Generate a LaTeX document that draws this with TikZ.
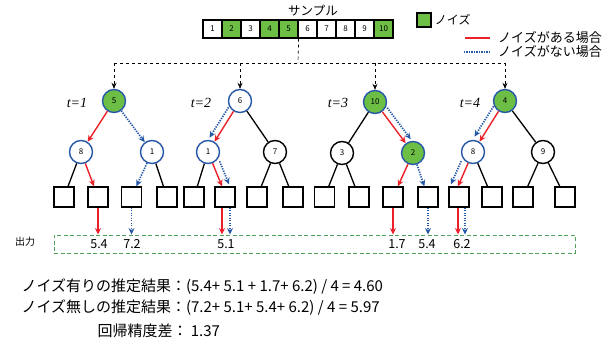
\documentclass[tikz,border=0pt]{standalone}
\usepackage{fontspec}
\setmainfont{Noto Sans CJK JP}
\newfontfamily\tfont{Liberation Serif}
\usetikzlibrary{arrows.meta}
\definecolor{ngreen}{RGB}{109,190,69}
\definecolor{nblue}{RGB}{38,88,168}
\definecolor{nred}{RGB}{236,32,40}
\definecolor{ndash}{RGB}{80,160,90}
\tikzset{
  knot/.style={circle,draw,line width=1.4pt,minimum size=23pt,inner sep=0pt,fill=white,font=\fontsize{8}{9}\selectfont},
  knotused/.style={knot,draw=nblue},
  knotnoise/.style={knotused,fill=ngreen},
  leafbox/.style={draw,line width=1.4pt,minimum size=20pt,inner sep=0pt},
  cellbox/.style={draw,line width=1.2pt,minimum width=19pt,minimum height=18pt,inner sep=0pt,font=\fontsize{8}{9}\selectfont},
  branch/.style={line width=1.3pt},
  feed/.style={dashed,line width=0.7pt},
  rpath/.style={draw=nred,line width=1.4pt,-{Stealth[length=6.5pt,width=6pt]}},
  bpath/.style={draw=nblue,line width=1.7pt,dash pattern=on 1.3pt off 1.2pt,-{Stealth[length=6.5pt,width=6pt]}},
  tlabel/.style={font=\tfont\itshape\fontsize{14}{16}\selectfont}
}
\begin{document}
\begin{tikzpicture}[x=1pt,y=-1pt]
\useasboundingbox (0,0) rectangle (615,347);

\node[font=\fontsize{12.5}{14}\selectfont] (smp) at (313,11) {サンプル};
\foreach \i/\c in {1/white,2/ngreen,3/white,4/ngreen,5/ngreen,6/white,7/white,8/white,9/white,10/ngreen}
  \node[cellbox,fill=\c] (s\i) at ({193.5+19*\i},29) {\i};

\node[draw,line width=1.5pt,fill=ngreen,minimum size=14pt,inner sep=0pt] (key) at (424,20) {};
\node[anchor=west,inner sep=1pt,font=\fontsize{12}{14}\selectfont] (keylbl) at ([xshift=2pt]key.east) {ノイズ};
\node[anchor=west,inner sep=1pt,font=\fontsize{13}{15}\selectfont] (kr) at (497,38) {ノイズがある場合};
\node[anchor=west,inner sep=1pt,font=\fontsize{13}{15}\selectfont] (kb) at (497,52) {ノイズがない場合};
\draw[nred,line width=1.6pt] ([xshift=-7pt]kr.west) -- ++(-25,0);
\draw[nblue,line width=1.7pt,dash pattern=on 1.3pt off 1.2pt] ([xshift=-7pt]kb.west) -- ++(-27,0);

\foreach \nm/\px/\py/\st/\lb in {r1/114/101/knotnoise/5,r2/240/101/knotused/6,r3/375/102/knotnoise/10,r4/505/101/knotnoise/4,
    a1/81/152/knotused/8,b1/152/152/knotused/1,a2/208/152/knotused/1,b2/275/152/knot/7,
    a3/342/153/knot/3,b3/413/153/knotnoise/2,a4/473/152/knotused/8,b4/543/152/knot/9}
  \node[\st] (\nm) at (\px,\py) {\lb};
\foreach \nm/\px in {l11/64,l12/98,l13/131.5,l14/167,l21/194,l22/225,l23/257,l24/293,
    l31/324.5,l32/359,l33/393,l34/428,l41/459,l42/492,l43/523,l44/565}
  \node[leafbox] (\nm) at (\px,197) {};

\node[tlabel] (t1) at (77,103) {t=1};
\node[tlabel] (t2) at (201,103) {t=2};
\node[tlabel] (t3) at (338,103) {t=3};
\node[tlabel] (t4) at (470,103) {t=4};

\coordinate (hub) at (298,63);
\draw[feed] (s5.south east) -- (hub);
\draw[feed] (r1 |- hub) -- (r4 |- hub);
\foreach \r in {r1,r2,r3,r4}
  \draw[feed,-{Stealth[length=6pt,width=5pt]}] (\r |- hub) -- (\r);

\foreach \u/\v in {a1/l11,b1/l14,r2/b2,a2/l21,b2/l23,b2/l24,r3/a3,a3/l31,a3/l32,r4/b4,a4/l42,b4/l43,b4/l44}
  \draw[branch] (\u) -- (\v);

\foreach \u/\v in {r1/a1,a1/l12,r2/a2,r3/b3,b3/l33,r4/a4}
  \draw[rpath] (\u) -- (\v);
\draw[rpath] (a2) -- ([xshift=-3pt]l22.north);
\draw[rpath] (a4) -- ([xshift=-1pt]l41.north);

\foreach \u/\v in {r1/b1,b1/l13,b3/l34}
  \draw[bpath] (\u) -- (\v);
\draw[bpath,transform canvas={shift={(-5pt,4pt)}}] (r2) -- (a2);
\draw[bpath,transform canvas={shift={(5pt,4pt)}}] (r3) -- (b3);
\draw[bpath,transform canvas={shift={(-5pt,5pt)}}] (r4) -- (a4);
\draw[bpath,transform canvas={shift={(7pt,2pt)}}] (a2) -- ([xshift=-3pt]l22.north);
\draw[bpath,transform canvas={shift={(-7pt,2pt)}}] (a4) -- ([xshift=-1pt]l41.north);

\node[draw=ndash,dash pattern=on 4pt off 2.5pt,line width=0.9pt,minimum width=521pt,minimum height=18pt,inner sep=0pt] (outbox) at (314.5,244) {};
\node[font=\fontsize{10}{12}\selectfont] (outlbl) at (25,242) {出力};

\draw[rpath] (l12) -- (l12 |- outbox.north);
\draw[rpath] ([xshift=-3pt]l22.south) -- ([xshift=-3pt]l22.south |- outbox.north);
\draw[rpath] (l33) -- (l33 |- outbox.north);
\draw[rpath] ([xshift=-1pt]l41.south) -- ([xshift=-1pt]l41.south |- outbox.north);
\draw[bpath] (l13) -- (l13 |- outbox.north);
\draw[bpath] ([xshift=5pt]l22.south) -- ([xshift=5pt]l22.south |- outbox.north);
\draw[bpath] (l34) -- (l34 |- outbox.north);
\draw[bpath] ([xshift=6pt]l41.south) -- ([xshift=6pt]l41.south |- outbox.north);

\foreach \px/\v in {99/5.4,132/7.2,226/5.1,397/1.7,427/5.4,462/6.2}
  \node[font=\fontsize{12.5}{14}\selectfont] at (\px,244) {\v};

\node[anchor=west,font=\fontsize{15}{18}\selectfont] (est1) at (18,287) {ノイズ有りの推定結果：(5.4+ 5.1 + 1.7+ 6.2) / 4 = 4.60};
\node[anchor=west,font=\fontsize{15}{18}\selectfont] (est2) at (18,308) {ノイズ無しの推定結果：(7.2+ 5.1+ 5.4+ 6.2) / 4 = 5.97};
\node[anchor=west,font=\fontsize{15}{18}\selectfont] (gap) at (94,331) {回帰精度差： 1.37};
\end{tikzpicture}
\end{document}
